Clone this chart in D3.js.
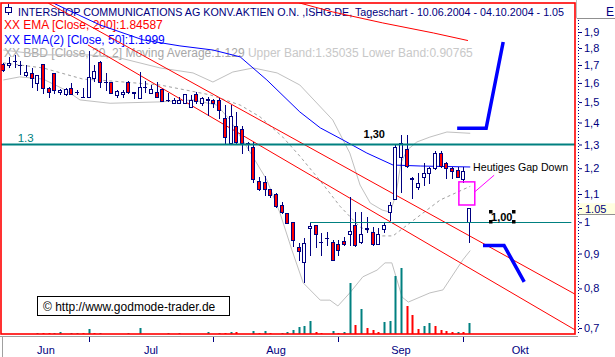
<!DOCTYPE html>
<html><head><meta charset="utf-8">
<script src="https://cdn.jsdelivr.net/npm/d3@7"></script>
<style>
body{margin:0;background:#fff;}
svg{display:block;}
text{font-family:"Liberation Sans",Arial,sans-serif;}
</style>
</head><body>
<svg id="c" width="615" height="357"></svg>
<script>
// ---------- DATA ----------
const titleText = "INTERSHOP COMMUNICATIONS AG KONV.AKTIEN O.N. ,ISHG.DE, Tageschart - 10.06.2004 - 04.10.2004 - 1.05";
const legendEma200 = "XX EMA [Close, 200]:1.84587";
const legendEma50 = "XX EMA(2) [Close, 50]:1.1999";
const legendBBa = "XX BBD [Close, 20, 2] Moving Average:1.129";
const legendBBb = " Upper Band:1.35035 Lower Band:0.90765";

const open = [1.706,1.702,1.725,1.702,1.644,1.655,1.598,1.704,1.572,1.653,
1.550,1.540,1.575,1.554,1.528,1.528,1.625,1.719,1.607,1.607,
1.537,1.540,1.604,1.550,1.520,1.580,1.548,1.554,1.566,1.511,
1.497,1.497,1.497,1.477,1.542,1.497,1.514,1.511,1.511,1.420,
1.308,1.384,1.369,1.307,1.290,1.150,1.147,1.118,1.100,1.060,
1.033,1.001,0.921,0.875,0.981,0.991,0.937,0.948,0.937,0.928,
0.939,0.960,0.991,0.937,0.980,0.969,0.929,0.977,1.036,1.081,
1.248,1.279,1.160,1.128,1.166,1.182,1.200,1.262,1.223,1.202,
1.193,1.156,1.002];
const close = [1.672,1.710,1.723,1.700,1.662,1.629,1.644,1.572,1.550,1.563,
1.563,1.568,1.540,1.553,1.527,1.634,1.666,1.604,1.605,1.548,
1.557,1.554,1.554,1.549,1.580,1.579,1.566,1.528,1.507,1.510,
1.511,1.511,1.542,1.511,1.507,1.520,1.513,1.497,1.461,1.335,
1.431,1.312,1.305,1.306,1.156,1.118,1.118,1.096,1.057,1.036,
0.999,0.942,0.909,0.932,0.988,0.960,0.936,0.947,0.881,0.911,
0.928,0.971,0.926,0.960,0.979,0.929,0.960,0.991,1.060,1.291,
1.308,1.209,1.159,1.143,1.180,1.200,1.265,1.209,1.200,1.190,
1.166,1.190,1.048];
const high = [1.710,1.748,1.759,1.723,1.700,1.685,1.644,1.704,1.580,1.655,
1.568,1.575,1.598,1.563,1.573,1.780,1.700,1.723,1.655,1.607,
1.563,1.563,1.611,1.550,1.662,1.611,1.589,1.607,1.566,1.548,
1.520,1.528,1.542,1.537,1.554,1.528,1.528,1.514,1.520,1.485,
1.485,1.452,1.384,1.312,1.312,1.166,1.169,1.120,1.104,1.072,
1.033,1.001,0.934,0.948,0.997,0.991,0.964,0.969,0.942,0.942,
0.950,1.090,1.036,1.036,1.019,0.985,0.980,1.002,1.072,1.298,
1.342,1.342,1.166,1.180,1.220,1.206,1.270,1.270,1.227,1.206,
1.206,1.206,1.048];
const low = [1.666,1.687,1.690,1.649,1.638,1.580,1.563,1.545,1.528,1.547,
1.540,1.537,1.540,1.540,1.527,1.528,1.611,1.580,1.563,1.545,
1.525,1.528,1.545,1.520,1.520,1.554,1.545,1.528,1.507,1.507,
1.495,1.497,1.494,1.477,1.494,1.485,1.436,1.477,1.420,1.308,
1.308,1.305,1.262,1.276,1.147,1.115,1.096,1.090,1.054,1.031,
0.999,0.923,0.881,0.818,0.896,0.921,0.896,0.926,0.881,0.896,
0.926,0.926,0.923,0.932,0.969,0.926,0.929,0.969,1.008,1.081,
1.109,1.206,1.084,1.120,1.134,1.143,1.196,1.206,1.160,1.160,
1.166,1.147,0.937];
const volume = [0,0,0,0,0,0,1,1,1,1, 2,0,1,1,1,5,1,1,0,0, 0,0,1,0,6,0,0,0,0,1,
0,1,0,0,0,0,2,0,1,1, 2,2,0,0,3,1,3,1,0,1, 2,4,7,8,13,2,1,0,3,1,
2,51,9,25,6,4,2,12,13,58, 66,28,19,5,8,11,8,4,3,2, 2,2,11];
const volumeUp = [0,0,0,0,0,0,1,0,0,1, 1,0,1,1,0,1,0,1,0,0, 0,0,1,0,1,0,0,0,0,1,
0,1,0,0,0,0,1,0,1,0, 1,0,0,0,1,0,1,0,0,1, 1,1,1,1,1,0,0,0,1,0,
1,1,0,1,0,0,0,1,1,1, 1,0,0,0,1,1,0,0,0,0, 1,0,1];

// indicators: [day index, value]
const ema50 = [[7,2.15],[9.1,2.089],[17.0,1.946],[24.6,1.850],[31.1,1.813],[36.9,1.788],[41.7,1.747],[46.4,1.616],[52.2,1.451],[55.8,1.375],[59.8,1.320],[64.0,1.263],[68.6,1.213],[73.4,1.209],[82.2,1.205]];
const ema200 = [[50,2.13],[52.2,2.095],[58.0,2.033],[66.8,1.959],[75.7,1.894],[81.8,1.846]];
const bbUpper = [[0,1.788],[7.0,1.759],[10.9,1.759],[14.9,1.759],[20.5,1.741],[27.6,1.683],[33.4,1.655],[36.9,1.605],[40.4,1.660],[44.0,1.683],[48.2,1.655],[52.2,1.589],[58.0,1.412],[61.0,1.263],[62.8,1.134],[64.6,1.067],[66.7,1.042],[68.1,1.035],[69.1,1.096],[70.0,1.221],[71.1,1.276],[72.8,1.311],[75.1,1.333],[78.1,1.356],[82.2,1.350]];
const bbMiddle = [[0,1.712],[7.0,1.683],[14.0,1.621],[18.8,1.611],[27.6,1.589],[36.4,1.537],[41.7,1.485],[45.2,1.427],[49.2,1.333],[52.2,1.250],[55.8,1.150],[59.3,1.055],[62.8,0.984],[66.3,0.955],[68.6,0.955],[71.6,0.998],[76.9,1.078],[82.2,1.129]];
const bbLower = [[0,1.616],[2.9,1.633],[7.0,1.621],[10.9,1.563],[13.5,1.511],[18.8,1.494],[27.6,1.501],[33.4,1.511],[37.6,1.485],[39.9,1.412],[42.9,1.289],[46.4,1.153],[48.7,1.032],[50.8,0.911],[52.8,0.815],[55.8,0.769],[57.5,0.769],[58.9,0.754],[61.0,0.788],[63.3,0.832],[65.8,0.851],[67.2,0.872],[68.4,0.872],[70.2,0.777],[71.3,0.764],[75.1,0.788],[77.4,0.796],[80.9,0.881],[82.2,0.909]];

// drawings
const trendUpper = [[7.9,2.095],[100.6,0.785]];
const trendLower = [[14.9,1.819],[100.6,0.696]];
const projUp = [[79.9,1.373],[85.0,1.373],[88.0,1.837]];
const projDown = [[84.45,0.925],[88.15,0.925],[91.7,0.818]];
const level130 = 1.3, level100 = 1.0, level100From = 54, level100To = 100;
const gapBox = [[80.2,1.146],[83.0,1.060]];
const gapPointer = [[83.05,1.109],[86.4,1.172]];
const gapLabel = {i:82.7, v:1.189, text:"Heutiges Gap Down"};
const label130 = {i:65.3, v:1.329, text:"1,30"};
const label100 = {i:87.75, v:1.0054, text:"1,00"};
const leftLabel = {i:2.0, v:1.312, text:"1.3"};
const lastPrice = 1.05;

const priceTicks = [1.9,1.8,1.7,1.6,1.5,1.4,1.3,1.2,1.1,1,0.9,0.8,0.7];
const monthTicks = [15,37,59,81];
const monthNames = ["Jun","Jul","Aug","Sep","Okt"];
const monthLabelPos = [7.5,26,48,70,91];

// ---------- CHART ----------
const NAVY="#000080", RED="#ff0000", BLUE="#0000ff", TEAL="#008080";
const svg = d3.select('#c');
const PL=1, PT=3, PR=575, PB=334;
const x = d3.scaleLinear().domain([0,82]).range([3.3,469.1]);
const y = d3.scaleLog().domain([0.7,1.9]).range([328,32]);
const yv = d3.scaleLinear().domain([0,100]).range([PB,PB-100]);
const line = d3.line().x(d=>x(d[0])).y(d=>y(d[1]));

svg.append('rect').attr('width',615).attr('height',357).attr('fill','#fff');
svg.append('defs').append('clipPath').attr('id','clip')
  .append('rect').attr('x',PL).attr('y',PT).attr('width',PR-PL).attr('height',PB-PT);

// header texts
const tg = svg.append('g');
tg.append('rect').attr('x',5.5).attr('y',7.5).attr('width',6).attr('height',5).attr('fill','none').attr('stroke',NAVY);
tg.append('line').attr('x1',8.5).attr('x2',8.5).attr('y1',4).attr('y2',7.5).attr('stroke',NAVY);
tg.append('line').attr('x1',8.5).attr('x2',8.5).attr('y1',12.5).attr('y2',15).attr('stroke',NAVY);
tg.append('text').attr('x',18).attr('y',16).attr('font-size',11).attr('fill',NAVY)
  .attr('textLength',546).attr('lengthAdjust','spacingAndGlyphs').text(titleText);
tg.append('text').attr('x',4).attr('y',29.3).attr('font-size',12).attr('fill',RED).text(legendEma200);
tg.append('text').attr('x',4).attr('y',43.6).attr('font-size',12).attr('fill',BLUE).text(legendEma50);
const bbt = tg.append('text').attr('x',4).attr('y',56.6).attr('font-size',12);
bbt.append('tspan').attr('fill','#a8a8a8').text(legendBBa);
bbt.append('tspan').attr('fill','#c8c8c8').text(legendBBb);

// plot group clipped
const g = svg.append('g').attr('clip-path','url(#clip)');

// bollinger
g.append('path').attr('d',line(bbUpper)).attr('fill','none').attr('stroke','#c0c0c0');
g.append('path').attr('d',line(bbLower)).attr('fill','none').attr('stroke','#c0c0c0');
g.append('path').attr('d',line(bbMiddle)).attr('fill','none').attr('stroke','#a0a0a0').attr('stroke-dasharray','3,3');
// EMAs
g.append('path').attr('d',line(ema50)).attr('fill','none').attr('stroke',BLUE);
g.append('path').attr('d',line(ema200)).attr('fill','none').attr('stroke',RED);
// trend lines
g.append('path').attr('d',line(trendUpper)).attr('fill','none').attr('stroke',RED);
g.append('path').attr('d',line(trendLower)).attr('fill','none').attr('stroke',RED);

// volume
const idx = d3.range(open.length);
g.selectAll('rect.vol').data(idx.filter(i=>volume[i]>0)).join('rect')
  .attr('x',i=>Math.round(x(i))-0.5).attr('width',2)
  .attr('y',i=>yv(volume[i])).attr('height',i=>PB-yv(volume[i]))
  .attr('fill',i=>volumeUp[i]?TEAL:RED);

// candles
const cg = g.append('g').attr('shape-rendering','crispEdges');
cg.selectAll('line.w').data(idx).join('line')
  .attr('x1',i=>Math.round(x(i))+0.5).attr('x2',i=>Math.round(x(i))+0.5)
  .attr('y1',i=>Math.round(y(high[i]))).attr('y2',i=>Math.round(y(low[i]))+1)
  .attr('stroke',NAVY);
cg.selectAll('rect.b').data(idx).join('rect')
  .attr('x',i=>Math.round(x(i))-1.5).attr('width',3)
  .attr('y',i=>Math.round(y(Math.max(open[i],close[i])))+0.5)
  .attr('height',i=>Math.max(0.01,Math.round(y(Math.min(open[i],close[i])))-Math.round(y(Math.max(open[i],close[i])))))
  .attr('fill',i=>close[i]<open[i]?RED:'#fff').attr('stroke',NAVY);

// horizontal levels
g.append('line').attr('x1',PL).attr('x2',PR).attr('y1',y(level130)).attr('y2',y(level130)).attr('stroke',TEAL).attr('stroke-width',2);
g.append('line').attr('x1',x(level100From)).attr('x2',x(level100To)).attr('y1',Math.round(y(level100))+0.5).attr('y2',Math.round(y(level100))+0.5).attr('stroke',TEAL);

// projection arrows
g.append('path').attr('d',line(projUp)).attr('fill','none').attr('stroke',BLUE).attr('stroke-width',3.5);
g.append('path').attr('d',line(projDown)).attr('fill','none').attr('stroke',BLUE).attr('stroke-width',3.5);

// gap box + pointer
g.append('rect').attr('x',x(gapBox[0][0])).attr('y',y(gapBox[0][1]))
  .attr('width',x(gapBox[1][0])-x(gapBox[0][0])).attr('height',y(gapBox[1][1])-y(gapBox[0][1]))
  .attr('fill','none').attr('stroke','#ff00ff').attr('stroke-width',1.5);
g.append('path').attr('d',line(gapPointer)).attr('fill','none').attr('stroke','#ff00ff');
g.append('text').attr('x',x(gapLabel.i)).attr('y',y(gapLabel.v)).attr('font-size',11).attr('fill','#000')
  .attr('textLength',95).attr('lengthAdjust','spacingAndGlyphs').text(gapLabel.text);

// labels
g.append('text').attr('x',x(label130.i)).attr('y',y(label130.v)).attr('text-anchor','middle')
  .attr('font-size',11).attr('font-weight','bold').attr('fill','#000').text(label130.text);
const t100 = g.append('text').attr('x',x(label100.i)).attr('y',y(label100.v)).attr('text-anchor','middle')
  .attr('font-size',11).attr('font-weight','bold').attr('fill','#000').text(label100.text);
const bb = t100.node().getBBox();
[[bb.x-1,bb.y+1],[bb.x+bb.width+1,bb.y+1],[bb.x-1,bb.y+bb.height-1],[bb.x+bb.width+1,bb.y+bb.height-1]].forEach(p=>{
  g.append('rect').attr('x',Math.round(p[0]-1.5)).attr('y',Math.round(p[1]-1.5)).attr('width',3.5).attr('height',3.5).attr('fill','#000');
});
g.append('text').attr('x',x(leftLabel.i)+3).attr('y',y(leftLabel.v)).attr('font-size',11.5).attr('fill',TEAL).text(leftLabel.text);

// copyright box
g.append('rect').attr('x',37.5).attr('y',296.5).attr('width',192).attr('height',19).attr('fill','#fff').attr('stroke','#000');
g.append('text').attr('x',43).attr('y',310.5).attr('font-size',12).attr('fill','#000').text("© http://www.godmode-trader.de");

// border
svg.append('rect').attr('x',PL).attr('y',PT).attr('width',PR-PL).attr('height',PB-PT)
  .attr('fill','none').attr('stroke',RED).attr('stroke-width',1.6);

// right header
svg.append('line').attr('x1',577).attr('x2',615).attr('y1',18.5).attr('y2',18.5).attr('stroke','#909090');
svg.append('line').attr('x1',576.5).attr('x2',576.5).attr('y1',0).attr('y2',18.5).attr('stroke','#c0c0c0');
svg.append('text').attr('x',606).attr('y',15.5).attr('font-size',12).attr('fill',NAVY).text('E');

// last-price marker
const lpY = y(lastPrice);
svg.append('rect').attr('x',578).attr('y',lpY-4.5).attr('width',37).attr('height',11).attr('fill','#ffffe0');
svg.append('line').attr('x1',577).attr('x2',615).attr('y1',Math.round(lpY)+6.5).attr('y2',Math.round(lpY)+6.5).attr('stroke','#909090');

// right axis
svg.append('line').attr('x1',578.5).attr('x2',578.5).attr('y1',20).attr('y2',PB).attr('stroke',NAVY).attr('stroke-dasharray','1,2');
const ax = svg.append('g').attr('transform','translate(579,0)')
  .call(d3.axisRight(y).tickValues(priceTicks).tickSize(3).tickPadding(2)
    .tickFormat(d=>String(d).replace('.',',')));
ax.select('.domain').remove();
ax.selectAll('line').attr('stroke',NAVY);
ax.selectAll('text').attr('fill',NAVY).attr('font-size',11).attr('font-family','"Liberation Sans",Arial,sans-serif');
svg.append('line').attr('x1',579).attr('x2',582).attr('y1',Math.round(lpY)+0.5).attr('y2',Math.round(lpY)+0.5).attr('stroke',NAVY);
svg.append('text').attr('x',585).attr('y',lpY+5).attr('font-size',11).attr('fill',NAVY).text(String(lastPrice));

// bottom axis
svg.append('line').attr('x1',0).attr('x2',578).attr('y1',336.5).attr('y2',336.5).attr('stroke','#a0a0a0');
svg.append('line').attr('x1',2.5).attr('x2',2.5).attr('y1',336).attr('y2',357).attr('stroke','#a0a0a0');
svg.selectAll('line.mt').data(monthTicks).join('line')
  .attr('x1',d=>Math.round(x(d))+0.5).attr('x2',d=>Math.round(x(d))+0.5)
  .attr('y1',337).attr('y2',342).attr('stroke',NAVY);
svg.selectAll('text.ml').data(monthNames).join('text')
  .attr('x',(d,i)=>x(monthLabelPos[i])).attr('y',354).attr('text-anchor','middle')
  .attr('font-size',11).attr('font-weight','normal').attr('fill',NAVY).text(d=>d);
</script>
</body></html>
